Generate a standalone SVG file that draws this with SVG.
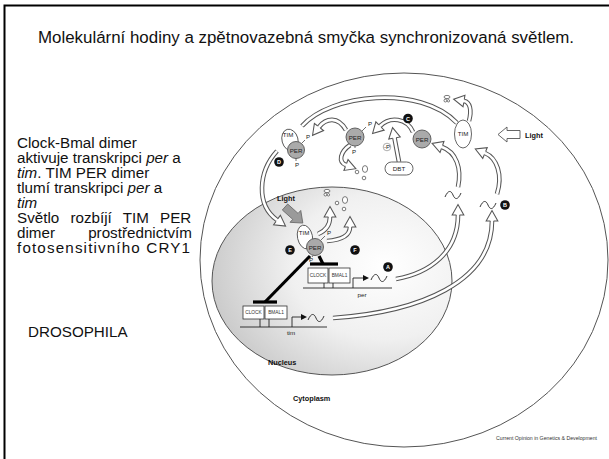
<svg xmlns="http://www.w3.org/2000/svg" width="609" height="459" viewBox="0 0 609 459">
  <defs>
    <radialGradient id="nucFill" cx="0.72" cy="0.42" r="0.78">
      <stop offset="0" stop-color="#ffffff"/>
      <stop offset="0.5" stop-color="#f0f0f0"/>
      <stop offset="1" stop-color="#c6c6c6"/>
    </radialGradient>
    <!-- open head for the double-line (hollow) arrows -->
    <marker id="hollowHead" markerUnits="userSpaceOnUse" markerWidth="14" markerHeight="14" viewBox="0 0 12 12" refX="1" refY="6" orient="auto" overflow="visible">
      <path d="M1,4.6 L1,1 L10,6 L1,11 L1,7.4" fill="#fff" stroke="#555" stroke-width="0.9"/>
    </marker>
    <marker id="promHead" markerUnits="userSpaceOnUse" markerWidth="6" markerHeight="6" viewBox="0 0 6 6" refX="1" refY="3" orient="auto">
      <path d="M0,0 L6,3 L0,6 Z" fill="#111"/>
    </marker>
    <path id="wave" d="M0,2 C3,-5 6,-5 8,0 S13,5 16,-2" fill="none" stroke="#222" stroke-width="0.9"/>
    <g id="degr">
      <ellipse cx="0" cy="0" rx="3" ry="1.6" fill="#fff" stroke="#444" stroke-width="0.7"/>
      <circle cx="-1.6" cy="3.6" r="1.4" fill="#fff" stroke="#444" stroke-width="0.7"/>
      <circle cx="1.4" cy="3.8" r="1.2" fill="#fff" stroke="#444" stroke-width="0.7"/>
    </g>
    <g id="frags">
      <circle cx="0" cy="1" r="1.8" fill="#fff" stroke="#444" stroke-width="0.7"/>
      <ellipse cx="8" cy="-2" rx="2.6" ry="3.4" fill="#fff" stroke="#444" stroke-width="0.7"/>
      <circle cx="7" cy="7" r="1.8" fill="#fff" stroke="#444" stroke-width="0.7"/>
    </g>
  </defs>
  <style>
    .txt { font-family: "Liberation Sans", Arial, sans-serif; fill: #111; }
    .side { font-size: 15.2px; }
    .small { font-family: "Liberation Sans", Arial, sans-serif; fill: #333; }
    .lbl { font-family: "Liberation Sans", Arial, sans-serif; font-weight: bold; font-size: 7.3px; fill: #111; }
    .mem { fill: none; stroke: #555; stroke-width: 1; }
    .ho { fill: none; stroke: #555; stroke-width: 4.6; }
    .hi { fill: none; stroke: #fff; stroke-width: 2.6; }
    .tim { fill: #fff; stroke: #555; stroke-width: 0.9; }
    .per { fill: #aaaaaa; stroke: #555; stroke-width: 0.9; }
    .prot { font-family: "Liberation Sans", Arial, sans-serif; font-size: 6.2px; fill: #222; text-anchor: middle; }
    .dot { fill: #111; }
    .dotl { font-family: "Liberation Sans", Arial, sans-serif; font-size: 5.5px; font-weight: bold; fill: #fff; text-anchor: middle; }
    .box { fill: #fff; stroke: #333; stroke-width: 0.8; }
    .boxt { font-family: "Liberation Sans", Arial, sans-serif; font-size: 4.8px; fill: #333; text-anchor: middle; }
    .dna { stroke: #222; stroke-width: 0.9; fill: none; }
    .inhib { stroke: #000; stroke-width: 3.2; fill: none; }
    .tick { stroke: #333; stroke-width: 0.7; }
  </style>

  <!-- slide frame -->
  <rect x="4.5" y="5.5" width="612" height="462" fill="none" stroke="#000" stroke-width="2"/>

  <!-- title -->
  <text class="txt" x="306" y="43" font-size="16.9" text-anchor="middle">Molekulární hodiny a zpětnovazebná smyčka synchronizovaná světlem.</text>

  <!-- side notes (second paragraph is justified) -->
  <g id="notes" class="txt side">
    <text x="17" y="148">Clock-Bmal dimer</text>
    <text x="17" y="163">aktivuje transkripci <tspan font-style="italic">per</tspan> a</text>
    <text x="17" y="178"><tspan font-style="italic">tim</tspan>. TIM PER dimer</text>
    <text x="17" y="193">tlumí transkripci <tspan font-style="italic">per</tspan> a</text>
    <text x="17" y="208" font-style="italic">tim</text>
    <text x="17" y="223" word-spacing="7">Světlo rozbíjí TIM PER</text>
    <text x="17" y="238">dimer</text>
    <text x="192" y="238" text-anchor="end">prostřednictvím</text>
    <text x="17" y="253" textLength="173" lengthAdjust="spacing">fotosensitivního CRY1</text>
    <text x="28" y="337">DROSOPHILA</text>
  </g>

  <!-- cell and nucleus -->
  <g id="cell">
    <ellipse class="mem" cx="404" cy="260" rx="204" ry="187"/>
    <text class="lbl" x="293" y="401">Cytoplasm</text>
  </g>
  <g id="nucleus">
    <ellipse cx="332" cy="281" rx="120" ry="94" fill="url(#nucFill)" stroke="#555" stroke-width="1"/>
    <text class="lbl" x="268" y="365">Nucleus</text>
  </g>

  <!-- connectors -->
  <g id="connectors">
    <!-- nuclear export arc without head -->
    <path class="ho" d="M302 126 C330 94, 420 84, 457 123"/>
    <path class="hi" d="M302 126 C330 94, 420 84, 457 123"/>

    <path class="ho" d="M346 130 C338 116, 326 118, 319 127"/>
    <path class="hi" d="M346 130 C338 116, 326 118, 319 127" marker-end="url(#hollowHead)"/>

    <path class="ho" d="M413 132 C407 118, 390 116, 380 126"/>
    <path class="hi" d="M413 132 C407 118, 390 116, 380 126" marker-end="url(#hollowHead)"/>

    <path class="ho" d="M399 162 L394.5 138"/>
    <path class="hi" d="M399 162 L394.5 138" marker-end="url(#hollowHead)"/>

    <path class="ho" d="M350 145 C340 152, 338 162, 346 165"/>
    <path class="hi" d="M350 145 C340 152, 338 162, 346 165" marker-end="url(#hollowHead)"/>

    <path class="ho" d="M277 151 C258 172, 256 205, 277 220"/>
    <path class="hi" d="M277 151 C258 172, 256 205, 277 220" marker-end="url(#hollowHead)"/>

    <path class="ho" d="M458 187 C462 168, 456 152, 442 147"/>
    <path class="hi" d="M458 187 C462 168, 456 152, 442 147" marker-end="url(#hollowHead)"/>

    <path class="ho" d="M497 194 C503 175, 497 158, 485 153"/>
    <path class="hi" d="M497 194 C503 175, 497 158, 485 153" marker-end="url(#hollowHead)"/>

    <path class="ho" d="M469 121 C472 110, 470 102, 464 101"/>
    <path class="hi" d="M469 121 C472 110, 470 102, 464 101" marker-end="url(#hollowHead)"/>

    <path class="ho" d="M396 279 C430 273, 458 252, 458 215"/>
    <path class="hi" d="M396 279 C430 273, 458 252, 458 215" marker-end="url(#hollowHead)"/>

    <path class="ho" d="M333 318 C420 312, 492 282, 492 221"/>
    <path class="hi" d="M333 318 C420 312, 492 282, 492 221" marker-end="url(#hollowHead)"/>

    <path class="ho" d="M318 234 C325 231, 330 226, 330 217"/>
    <path class="hi" d="M318 234 C325 231, 330 226, 330 217" marker-end="url(#hollowHead)"/>

    <path class="ho" d="M327 241 C340 240, 350 236, 350 227"/>
    <path class="hi" d="M327 241 C340 240, 350 236, 350 227" marker-end="url(#hollowHead)"/>

    <!-- repression by TIM/PER -->
    <path class="inhib" d="M310 256 L265 302"/>
    <path class="inhib" d="M253 302 H277"/>
    <path class="inhib" d="M319 256 L323 264"/>
    <path class="inhib" d="M310 264 H338"/>
  </g>

  <!-- light cues -->
  <g id="light-cyto">
    <path d="M498 134.5 L507 127 L507 130.5 L520 130.5 L520 138.5 L507 138.5 L507 142 Z" fill="#fff" stroke="#555" stroke-width="0.9"/>
    <text class="lbl" x="525" y="137.5">Light</text>
  </g>
  <g id="light-nuc">
    <path d="M0,-4 L14,-4 L14,-8 L24,0 L14,8 L14,4 L0,4 Z" transform="translate(285,207) rotate(42)" fill="#9a9a9a" stroke="#666" stroke-width="0.8"/>
    <text class="lbl" x="277" y="201">Light</text>
  </g>

  <!-- degradation products -->
  <use href="#degr" x="447" y="97"/>
  <use href="#degr" x="327" y="191"/>
  <use href="#frags" x="357" y="171"/>
  <use href="#frags" x="337" y="202"/>

  <!-- cytoplasmic TIM/PER (D) -->
  <g id="complex-d">
    <ellipse class="tim" cx="290" cy="140" rx="8" ry="11" transform="rotate(-15 290 140)"/>
    <circle class="per" cx="296" cy="150" r="8.5"/>
    <text class="prot" x="288" y="137" font-size="5.5">TIM</text>
    <text class="prot" x="296" y="152.5">PER</text>
    <line class="tick" x1="302" y1="143" x2="305" y2="140"/>
    <text class="prot" x="308" y="139" font-size="5.5">P</text>
    <line class="tick" x1="296" y1="158.5" x2="296" y2="161"/>
    <text class="prot" x="297" y="167" font-size="5.5">P</text>
    <circle class="dot" cx="279" cy="162" r="4.8"/>
    <text class="dotl" x="279" y="164">D</text>
  </g>

  <!-- phosphorylated PER -->
  <g id="per-mid">
    <circle class="per" cx="355" cy="137" r="9"/>
    <text class="prot" x="355" y="139.5">PER</text>
    <line class="tick" x1="362" y1="131" x2="366" y2="127"/>
    <text class="prot" x="370" y="126" font-size="5.5">P</text>
    <line class="tick" x1="355" y1="146" x2="355" y2="148"/>
    <text class="prot" x="354" y="154" font-size="5.5">P</text>
  </g>

  <g id="per-right">
    <circle class="per" cx="422" cy="139" r="9"/>
    <text class="prot" x="422" y="141.5">PER</text>
    <circle class="dot" cx="408" cy="118.5" r="4.8"/>
    <text class="dotl" x="408" y="120.5">C</text>
  </g>

  <g id="tim-cyto">
    <ellipse class="tim" cx="463" cy="134" rx="8.5" ry="14"/>
    <text class="prot" x="463" y="136" font-size="5.5">TIM</text>
  </g>

  <g id="dbt">
    <rect x="385" y="162" width="28" height="13" rx="6.5" fill="#fff" stroke="#555" stroke-width="0.9"/>
    <text class="prot" x="399" y="170.8" font-size="6.5">DBT</text>
    <circle cx="387" cy="147" r="3.8" fill="#fff" stroke="#777" stroke-width="0.6"/>
    <text class="prot" x="387" y="148.6" font-size="4">-P</text>
  </g>

  <!-- mRNAs in cytoplasm -->
  <g id="mrna-cyto">
    <use href="#wave" x="445" y="195"/>
    <use href="#wave" x="480" y="205"/>
    <circle class="dot" cx="505" cy="205" r="4.8"/>
    <text class="dotl" x="505" y="207">B</text>
  </g>

  <!-- nuclear TIM/PER (E, F) -->
  <g id="complex-ef">
    <ellipse class="tim" cx="305" cy="237" rx="7.5" ry="12" transform="rotate(-12 305 237)"/>
    <circle class="per" cx="315" cy="247" r="8.5"/>
    <text class="prot" x="304" y="235" font-size="5.5">TIM</text>
    <text class="prot" x="315" y="249.5">PER</text>
    <line class="tick" x1="321" y1="240" x2="325" y2="236"/>
    <text class="prot" x="329" y="235" font-size="5.5">P</text>
    <line class="tick" x1="313" y1="255.5" x2="312" y2="257"/>
    <text class="prot" x="311" y="262" font-size="5.5">P</text>
    <circle class="dot" cx="290" cy="250" r="4.8"/>
    <text class="dotl" x="290" y="252">E</text>
    <circle class="dot" cx="355" cy="250" r="4.8"/>
    <text class="dotl" x="355" y="252">F</text>
  </g>

  <!-- per gene -->
  <g id="gene-per">
    <line class="dna" x1="303" y1="288" x2="392" y2="288"/>
    <rect class="box" x="308" y="268" width="20" height="15"/>
    <rect class="box" x="329" y="268" width="21" height="15"/>
    <line class="dna" x1="324" y1="283" x2="324" y2="288"/>
    <line class="dna" x1="333" y1="283" x2="333" y2="288"/>
    <text class="boxt" x="318" y="277">CLOCK</text>
    <text class="boxt" x="339.5" y="277">BMAL1</text>
    <path class="dna" d="M353 288 V278 H364" marker-end="url(#promHead)"/>
    <use href="#wave" x="371" y="278"/>
    <text class="prot" x="362" y="296.5">per</text>
    <circle class="dot" cx="388" cy="267" r="4.8"/>
    <text class="dotl" x="388" y="269">A</text>
  </g>

  <!-- tim gene -->
  <g id="gene-tim">
    <line class="dna" x1="240" y1="327" x2="327" y2="327"/>
    <rect class="box" x="243" y="306" width="21" height="13"/>
    <rect class="box" x="265" y="306" width="22" height="13"/>
    <line class="dna" x1="260" y1="319" x2="260" y2="327"/>
    <line class="dna" x1="269" y1="319" x2="269" y2="327"/>
    <text class="boxt" x="253.5" y="314">CLOCK</text>
    <text class="boxt" x="276" y="314">BMAL1</text>
    <path class="dna" d="M292 327 V317 H302" marker-end="url(#promHead)"/>
    <use href="#wave" x="308" y="318"/>
    <text class="prot" x="291" y="335">tim</text>
  </g>

  <text class="small" x="597" y="439.5" font-size="5.2" text-anchor="end">Current Opinion in Genetics &amp; Development</text>
</svg>
